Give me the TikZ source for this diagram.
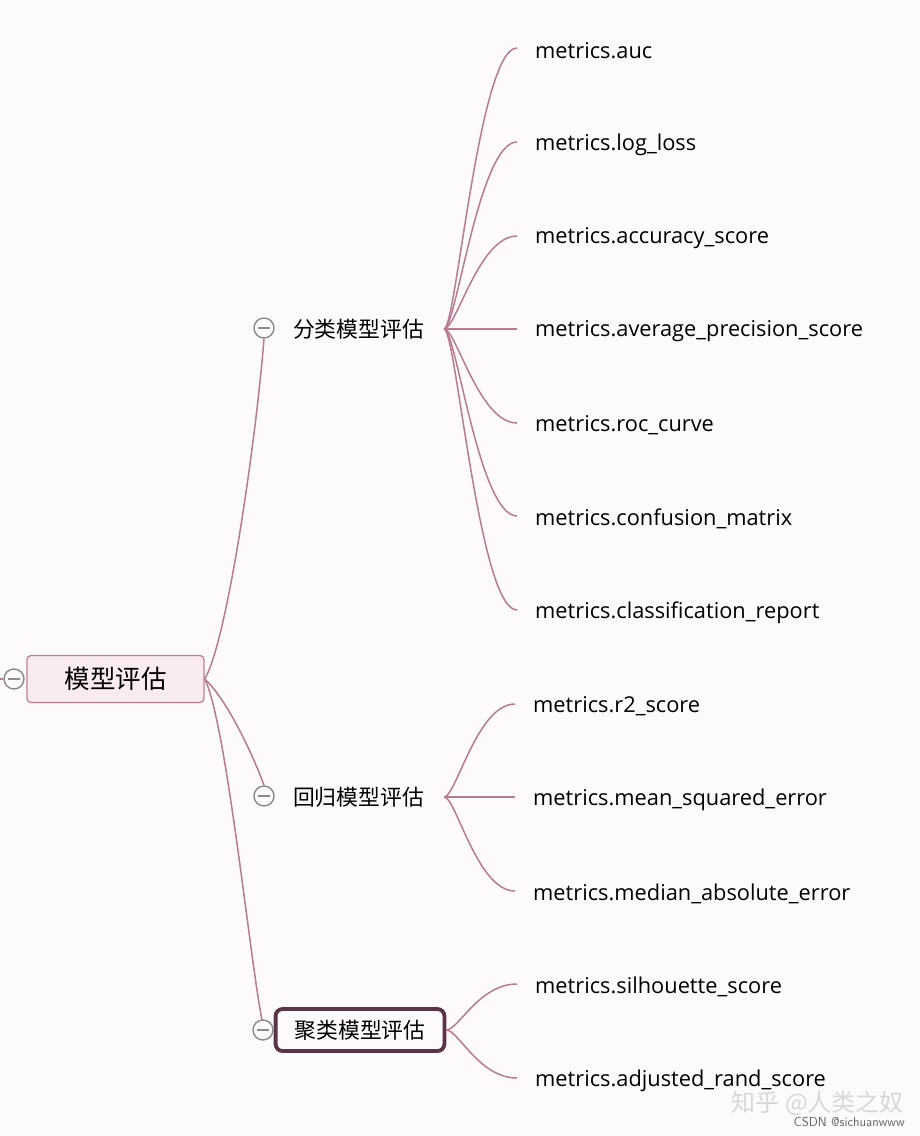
\documentclass[tikz,border=0pt]{standalone}
\usepackage{fontspec}
\setmainfont{Open Sans}
\newfontfamily\cjk{Noto Sans CJK SC}
\usetikzlibrary{calc}
\definecolor{bg}{HTML}{FCFAFA}
\definecolor{conn}{HTML}{B77C92}
\definecolor{rootfill}{HTML}{F9EBEF}
\definecolor{rootdraw}{HTML}{C07F96}
\definecolor{clusterdraw}{HTML}{5A3545}
\definecolor{circ}{HTML}{8A8A8A}
\definecolor{wm}{HTML}{D8D8D8}
\tikzset{
  conn/.style={draw=conn, line width=1.5pt},
  collapse/.style={circle, draw=circ, line width=1.4pt, fill=bg, minimum size=20pt, inner sep=0pt,
    path picture={\draw[circ, line width=1.4pt] ([xshift=-6pt]path picture bounding box.center) -- ([xshift=6pt]path picture bounding box.center);}},
  leaf/.style={anchor=west, inner xsep=18pt, inner ysep=2pt, font=\fontsize{21.8}{24}\selectfont, text=black},
  cat/.style={inner xsep=20pt, inner ysep=6pt, font=\cjk\fontsize{21.8}{24}\selectfont, text=black},
}
\begin{document}
\begin{tikzpicture}[x=1pt,y=-1pt]
\fill[bg] (0,0) rectangle (920,1136);
\useasboundingbox (0,0) rectangle (920,1136);

% root
\node[draw=rootdraw, fill=rootfill, rounded corners=4pt, line width=1.3pt,
  minimum width=177pt, minimum height=47pt, inner sep=0pt,
  font=\cjk\fontsize{25.5}{28}\selectfont, text=black] (root) at (115.5,679) {模型评估};
\node[collapse] (m0) at (14,679) {};
\coordinate (e0) at (0,679);
\draw[conn] (e0) -- (m0);

% categories
\node[cat] (c1) at (358.5,329) {分类模型评估};
\node[cat] (c2) at (358.5,797) {回归模型评估};
\node[cat, draw=clusterdraw, line width=3.8pt, rounded corners=7pt, inner xsep=19pt, minimum height=42pt] (c3) at (360,1030) {聚类模型评估};

\node[collapse] (m1) at (264,328) {};
\node[collapse] (m2) at (264,796) {};

% root connectors
\draw[conn] (root.east) .. controls (228,640) and (257,430) .. (m1.south);
\draw[conn] (root.east) .. controls (228,700) and (255,760) .. (m2.north);
\draw[conn] (root.east) .. controls (226,720) and (250,960) .. (262,1020);
\node[collapse] (m3) at (263,1030) {};

% leaves of c1
\foreach \n/\y/\t in {a/48/metrics.auc, b/142/metrics.log\_loss, c/236/metrics.accuracy\_score,
  d/329/metrics.average\_precision\_score, e/423/metrics.roc\_curve,
  f/516/metrics.confusion\_matrix, g/610/metrics.classification\_report}{
  \node[leaf] (l\n) at (517,\y+2.5) {\t};
  \draw[conn] (c1.east) .. controls ($(c1.east)+(12,0)$) and (479,\y) .. (517,\y);
}
% leaves of c2
\foreach \n/\y/\t in {h/704/metrics.r2\_score, i/797/metrics.mean\_squared\_error, j/891/metrics.median\_absolute\_error}{
  \node[leaf] (l\n) at (515,\y+2.5) {\t};
  \draw[conn] (c2.east) .. controls ($(c2.east)+(12,0)$) and (477,\y) .. (515,\y);
}
% leaves of c3
\foreach \n/\y/\t in {k/984/metrics.silhouette\_score, l/1078/metrics.adjusted\_rand\_score}{
  \node[leaf] (l\n) at (517,\y+2.5) {\t};
  \draw[conn] (c3.east) .. controls ($(c3.east)+(12,0)$) and (479,\y) .. (517,\y);
}

% watermarks
\node[anchor=east, text=wm, font=\cjk\fontsize{24}{26}\selectfont, inner sep=0pt] (wm1) at (904,1103) {知乎 @人类之奴};
\node[anchor=east, text=black!60, font=\sffamily\fontsize{13}{15}\selectfont, inner sep=0pt] (wm2) at (905,1122) {CSDN @sichuanwww};
\end{tikzpicture}
\end{document}
